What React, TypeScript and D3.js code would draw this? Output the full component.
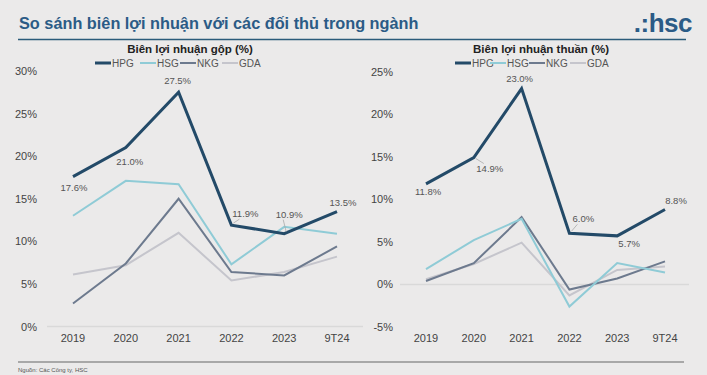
import React from "react";
import * as d3 from "d3";

const categories = ["2019", "2020", "2021", "2022", "2023", "9T24"];
const seriesNames = ["HPG", "HSG", "NKG", "GDA"];

const grossHPG = [17.6, 21.0, 27.5, 11.9, 10.9, 13.5];
const grossHSG = [13.0, 17.1, 16.7, 7.3, 11.7, 10.9];
const grossNKG = [2.7, 7.4, 15.0, 6.4, 6.0, 9.4];
const grossGDA = [6.1, 7.2, 11.0, 5.4, 6.4, 8.2];

const netHPG = [11.8, 14.9, 23.0, 6.0, 5.7, 8.8];
const netHSG = [1.8, 5.2, 7.7, -2.6, 2.5, 1.4];
const netNKG = [0.4, 2.5, 7.9, -0.6, 0.7, 2.7];
const netGDA = [0.6, 2.4, 4.9, -1.3, 1.7, 2.1];

const grossTicks = [0, 5, 10, 15, 20, 25, 30];
const netTicks = [-5, 0, 5, 10, 15, 20, 25];

const colors: Record<string, string> = {
  HPG: "#234a68",
  HSG: "#8fcbd6",
  NKG: "#6d7a8e",
  GDA: "#c5c5cc",
};
const widths: Record<string, number> = { HPG: 3, HSG: 2, NKG: 2, GDA: 2 };

// label offsets (dx, dy) relative to HPG point; leader flag
const grossLabelOff = [
  [1, 14, 0],
  [4, 17, 0],
  [-1, -8, 0],
  [14, -8, 1],
  [5, -16, 1],
  [6, -6, 0],
];
const netLabelOff = [
  [2, 11, 0],
  [16, 14, 1],
  [-2, -7, 0],
  [14, -11, 1],
  [12, 11, 0],
  [11, -5, 0],
];

const FONT = "'Liberation Sans', Arial, sans-serif";

function Panel({
  title,
  cx,
  data,
  ticks,
  xRange,
  yDomain,
  yRange,
  tickX,
  zeroRange,
  labelOff,
  legendX,
}: any) {
  const x = d3.scalePoint<string>().domain(categories).range(xRange);
  const y = d3.scaleLinear().domain(yDomain).range(yRange);
  const line = d3
    .line<number>()
    .x((_, i) => x(categories[i]) as number)
    .y((d) => y(d));
  const order = ["GDA", "NKG", "HSG", "HPG"];
  return (
    <g>
      <text x={cx} y={53} textAnchor="middle" fontFamily={FONT} fontWeight="bold" fontSize={11.5} fill="#222">
        {title}
      </text>
      {seriesNames.map((s, i) => (
        <g key={s}>
          <line
            x1={legendX[i]}
            x2={legendX[i] + 16}
            y1={63}
            y2={63}
            stroke={colors[s]}
            strokeWidth={widths[s]}
          />
          <text x={legendX[i] + 17} y={66.5} fontFamily={FONT} fontSize={10} fill="#555">
            {s}
          </text>
        </g>
      ))}
      <line x1={zeroRange[0]} x2={zeroRange[1]} y1={y(0)} y2={y(0)} stroke="#d9d9d9" strokeWidth={1.5} />
      {ticks.map((t: number) => (
        <text
          key={t}
          x={tickX}
          y={y(t) + 4}
          textAnchor="end"
          fontFamily={FONT}
          fontSize={11}
          fill="#444"
        >
          {t + "%"}
        </text>
      ))}
      {categories.map((c) => (
        <text key={c} x={x(c)} y={342} textAnchor="middle" fontFamily={FONT} fontSize={11} fill="#444">
          {c}
        </text>
      ))}
      {order.map((s) => (
        <path
          key={s}
          d={line(data[s]) as string}
          fill="none"
          stroke={colors[s]}
          strokeWidth={widths[s]}
          strokeLinejoin="miter"
        />
      ))}
      {data.HPG.map((v: number, i: number) => {
        const px = x(categories[i]) as number;
        const py = y(v);
        const [dx, dy, lead] = labelOff[i];
        return (
          <g key={i}>
            {lead ? (
              <line
                x1={px + 2}
                y1={py + (dy > 0 ? 1 : -2)}
                x2={px + dx - 6}
                y2={py + dy + (dy > 0 ? -8 : 2)}
                stroke="#aaa"
                strokeWidth={0.8}
              />
            ) : null}
            <text
              x={px + dx}
              y={py + dy}
              textAnchor="middle"
              fontFamily={FONT}
              fontSize={9.5}
              fill="#555"
            >
              {v.toFixed(1) + "%"}
            </text>
          </g>
        );
      })}
    </g>
  );
}

export default function App() {
  return (
    <div style={{ position: "absolute", left: 0, top: 0 }}>
      <svg width={707} height={375} style={{ display: "block" }}>
        <rect width={707} height={375} fill="#ebeaea" />
        <text x={19} y={29} fontFamily={FONT} fontSize={16.3} fontWeight="bold" fill="#2b5b86">
          So sánh biên lợi nhuận với các đối thủ trong ngành
        </text>
        <text x={692} y={32} textAnchor="end" fontFamily={FONT} fontSize={26} fontWeight="bold" fill="#2b5b86" letterSpacing={-0.5}>
          .:hsc
        </text>
        <line x1={18} x2={686} y1={39.5} y2={39.5} stroke="#2b5b7a" strokeWidth={1.5} />
        <Panel
          title="Biên lợi nhuận gộp (%)"
          cx={190}
          data={{ HPG: grossHPG, HSG: grossHSG, NKG: grossNKG, GDA: grossGDA }}
          ticks={grossTicks}
          xRange={[73, 337]}
          yDomain={[0, 30]}
          yRange={[326.5, 71]}
          tickX={37}
          zeroRange={[47, 363]}
          labelOff={grossLabelOff}
          legendX={[95, 140, 180, 222]}
        />
        <Panel
          title="Biên lợi nhuận thuần (%)"
          cx={541}
          data={{ HPG: netHPG, HSG: netHSG, NKG: netNKG, GDA: netGDA }}
          ticks={netTicks}
          xRange={[426, 665]}
          yDomain={[-5, 25]}
          yRange={[327, 71.5]}
          tickX={393}
          zeroRange={[400, 689]}
          labelOff={netLabelOff}
          legendX={[455, 490, 529, 570]}
        />
        <line x1={18} x2={684} y1={362} y2={362} stroke="#666" strokeWidth={1.2} />
        <text x={18} y={372} fontFamily={FONT} fontSize={6} fill="#555">
          Nguồn: Các Công ty, HSC
        </text>
      </svg>
    </div>
  );
}
